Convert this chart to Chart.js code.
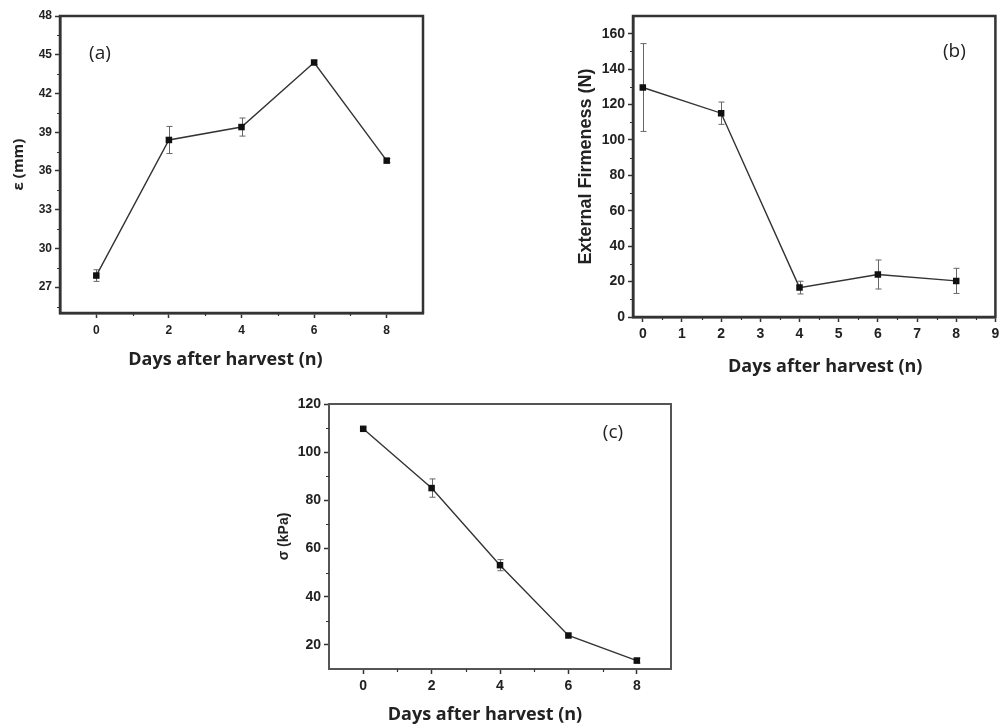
<!DOCTYPE html>
<html><head><meta charset="utf-8">
<script src="https://cdn.jsdelivr.net/npm/chart.js@4.4.1/dist/chart.umd.min.js"></script>
<style>
html,body{margin:0;padding:0;background:#fff;width:1000px;height:728px;overflow:hidden;position:relative;}
canvas{position:absolute;}
</style></head><body>
<canvas id="ca" width="430" height="380" style="left:0px;top:0px;width:430px;height:380px"></canvas>
<canvas id="cb" width="460" height="380" style="left:540px;top:0px;width:460px;height:380px"></canvas>
<canvas id="cc" width="450" height="348" style="left:270px;top:380px;width:450px;height:348px"></canvas>
<script>
// ---------- data ----------
const days = [0, 2, 4, 6, 8];

const strainA = [27.9, 38.4, 39.4, 44.4, 36.8];        // ε (mm)
const strainErrA = [0.45, 1.05, 0.7, 0.15, 0.15];

const firmnessB = [129.6, 115.1, 16.6, 24.0, 20.4];    // External Firmeness (N)
const firmnessErrB = [24.8, 6.3, 3.6, 8.2, 7.1];

const stressC = [109.7, 85.1, 53.1, 23.9, 13.5];       // σ (kPa)
const stressErrC = [0.6, 3.8, 2.3, 0.6, 1.0];

const xTicksA = [0, 2, 4, 6, 8];
const yTicksA = [27, 30, 33, 36, 39, 42, 45, 48];
const xTicksB = [0, 1, 2, 3, 4, 5, 6, 7, 8, 9];
const yTicksB = [0, 20, 40, 60, 80, 100, 120, 140, 160];
const xTicksC = [0, 2, 4, 6, 8];
const yTicksC = [20, 40, 60, 80, 100, 120];

const xTitle = 'Days after harvest (n)';
const yTitleA = 'ε (mm)';
const yTitleB = 'External Firmeness (N)';
const yTitleC = 'σ (kPa)';

// ---------- plugins ----------
const errorBars = {
  id: 'errorBars',
  beforeDatasetsDraw(chart, args, opts) {
    const {ctx, scales: {x, y}} = chart;
    ctx.save();
    ctx.strokeStyle = opts.color || '#777';
    ctx.lineWidth = 1;
    const cap = opts.cap || 3;
    chart.data.datasets.forEach(ds => {
      ds.data.forEach((p, i) => {
        const e = opts.err[i];
        const px = Math.round(x.getPixelForValue(p.x)) + 0.5;
        const yt = y.getPixelForValue(p.y + e);
        const yb = y.getPixelForValue(p.y - e);
        ctx.beginPath();
        ctx.moveTo(px, yt); ctx.lineTo(px, yb);
        ctx.moveTo(px - cap, yt); ctx.lineTo(px + cap, yt);
        ctx.moveTo(px - cap, yb); ctx.lineTo(px + cap, yb);
        ctx.stroke();
      });
    });
    ctx.restore();
  }
};

function near(set, v) { return set.some(s => Math.abs(s - v) < 1e-6); }

const frameAndMinor = {
  id: 'frameAndMinor',
  afterDraw(chart, args, opts) {
    const {ctx, chartArea: a, scales: {x, y}} = chart;
    ctx.save();
    // frame
    ctx.strokeStyle = opts.frameColor;
    ctx.lineWidth = opts.frameWidth;
    ctx.strokeRect(a.left, a.top, a.right - a.left, a.bottom - a.top);
    // minor ticks
    ctx.strokeStyle = opts.tickColor;
    ctx.lineWidth = 1.2;
    ctx.beginPath();
    const mx = x.ticks.map(t => t.value);
    for (let k = Math.ceil(x.min / opts.xStep); k * opts.xStep <= x.max + 1e-9; k++) {
      const v = k * opts.xStep;
      if (near(mx, v) || v <= x.min + 1e-9 || v >= x.max - 1e-9) continue;
      const px = Math.round(x.getPixelForValue(v)) + 0.5;
      ctx.moveTo(px, a.bottom); ctx.lineTo(px, a.bottom + opts.len);
    }
    const my = y.ticks.map(t => t.value);
    for (let k = Math.ceil(y.min / opts.yStep); k * opts.yStep <= y.max + 1e-9; k++) {
      const v = k * opts.yStep;
      if (near(my, v) || v <= y.min + 1e-9 || v >= y.max - 1e-9) continue;
      const py = Math.round(y.getPixelForValue(v)) + 0.5;
      ctx.moveTo(a.left, py); ctx.lineTo(a.left - opts.len, py);
    }
    ctx.stroke();
    // panel label
    ctx.fillStyle = '#222';
    ctx.font = '400 19px "Open Sans", sans-serif';
    ctx.textAlign = 'center';
    ctx.textBaseline = 'middle';
    const lx = opts.labelFromRight ? a.right - opts.labelDx : a.left + opts.labelDx;
    ctx.fillText(opts.label, lx, a.top + opts.labelDy);
    // x-axis title (placed like the original figure, slightly off-centre)
    ctx.font = 'bold 18px "Open Sans", sans-serif';
    ctx.fillText(opts.xTitle, (a.left + a.right) / 2 + opts.xTitleDx, chart.height - opts.xTitleFromBottom);
    ctx.restore();
  }
};

// ---------- builder ----------
function panel(id, p) {
  const tickFont = {family: '"Liberation Sans", Arial, sans-serif', size: p.tickSize, weight: 'bold'};
  return new Chart(document.getElementById(id), {
    type: 'scatter',
    data: {
      datasets: [{
        data: days.map((d, i) => ({x: d, y: p.values[i]})),
        showLine: true,
        borderColor: '#333',
        borderWidth: 1.4,
        pointStyle: 'rect',
        pointRadius: 4.6,
        pointBackgroundColor: '#111',
        pointBorderWidth: 0
      }]
    },
    options: {
      responsive: false,
      animation: false,
      devicePixelRatio: 1,
      layout: {padding: p.padding},
      plugins: {
        legend: {display: false},
        tooltip: {enabled: false},
        errorBars: {err: p.err, color: '#666', cap: 3},
        frameAndMinor: {
          frameColor: p.frameColor, frameWidth: p.frameWidth, tickColor: '#333',
          xStep: p.xMinor, yStep: p.yMinor, len: 3,
          label: p.label, labelDx: p.labelDx, labelDy: p.labelDy, labelFromRight: p.labelFromRight,
          xTitle: xTitle, xTitleDx: p.xTitleDx, xTitleFromBottom: p.xTitleFromBottom
        }
      },
      scales: {
        x: {
          type: 'linear', min: p.xMin, max: p.xMax,
          afterBuildTicks: s => { s.ticks = p.xTicks.map(v => ({value: v})); },
          afterFit: s => { s.height = p.xHeight; s.paddingLeft = 0; s.paddingRight = 0; },
          grid: {drawOnChartArea: false, drawTicks: true, tickLength: 5, tickColor: '#333', tickWidth: 1.5},
          border: {display: true, color: p.frameColor, width: p.frameWidth},
          ticks: {color: '#222', font: tickFont, padding: p.xTickPad, maxRotation: 0, autoSkip: false},
          title: {display: false}
        },
        y: {
          type: 'linear', min: p.yMin, max: p.yMax,
          afterBuildTicks: s => { s.ticks = p.yTicks.map(v => ({value: v})); },
          afterFit: s => { s.width = p.yWidth; s.paddingTop = 0; s.paddingBottom = 0; },
          grid: {drawOnChartArea: false, drawTicks: true, tickLength: 5, tickColor: '#333', tickWidth: 1.5},
          border: {display: true, color: p.frameColor, width: p.frameWidth},
          ticks: {color: '#222', font: tickFont, padding: 3, autoSkip: false},
          title: {display: true, text: p.yTitle, color: '#222',
                  font: {family: p.yTitleFamily, size: p.yTitleSize, weight: 'bold'},
                  padding: {top: p.yTitlePad, bottom: 0}}
        }
      }
    },
    plugins: [errorBars, frameAndMinor]
  });
}

panel('ca', {
  values: strainA, err: strainErrA,
  xMin: -1, xMax: 9, yMin: 25, yMax: 48,
  xTicks: xTicksA, yTicks: yTicksA, xMinor: 1, yMinor: 1.5,
  padding: {top: 16, right: 7, left: 0, bottom: 0},
  xHeight: 67, yWidth: 60, tickSize: 12, xTickPad: 5,
  xTitleDx: -16, xTitleFromBottom: 20,
  yTitle: yTitleA, yTitleFamily: '"Open Sans", sans-serif', yTitleSize: 15, yTitlePad: 10,
  frameColor: '#333', frameWidth: 2.5,
  label: '(a)', labelDx: 40, labelDy: 38, labelFromRight: false
});

panel('cb', {
  values: firmnessB, err: firmnessErrB,
  xMin: -0.25, xMax: 9, yMin: 0, yMax: 170,
  xTicks: xTicksB, yTicks: yTicksB, xMinor: 0.5, yMinor: 10,
  padding: {top: 16, right: 3, left: 0, bottom: 0},
  xHeight: 63, yWidth: 93, tickSize: 14, xTickPad: 4,
  xTitleDx: 11, xTitleFromBottom: 13,
  yTitle: yTitleB, yTitleFamily: '"Liberation Sans", Arial, sans-serif', yTitleSize: 18, yTitlePad: 35,
  frameColor: '#333', frameWidth: 2.5,
  label: '(b)', labelDx: 41, labelDy: 36, labelFromRight: true
});

panel('cc', {
  values: stressC, err: stressErrC,
  xMin: -1, xMax: 9, yMin: 10, yMax: 120,
  xTicks: xTicksC, yTicks: yTicksC, xMinor: 1, yMinor: 10,
  padding: {top: 24, right: 49, left: 0, bottom: 0},
  xHeight: 59, yWidth: 59, tickSize: 14, xTickPad: 4,
  xTitleDx: -15, xTitleFromBottom: 13,
  yTitle: yTitleC, yTitleFamily: '"Liberation Sans", Arial, sans-serif', yTitleSize: 14, yTitlePad: 6,
  frameColor: '#555', frameWidth: 2,
  label: '(c)', labelDx: 58, labelDy: 29, labelFromRight: true
});
</script>
</body></html>
